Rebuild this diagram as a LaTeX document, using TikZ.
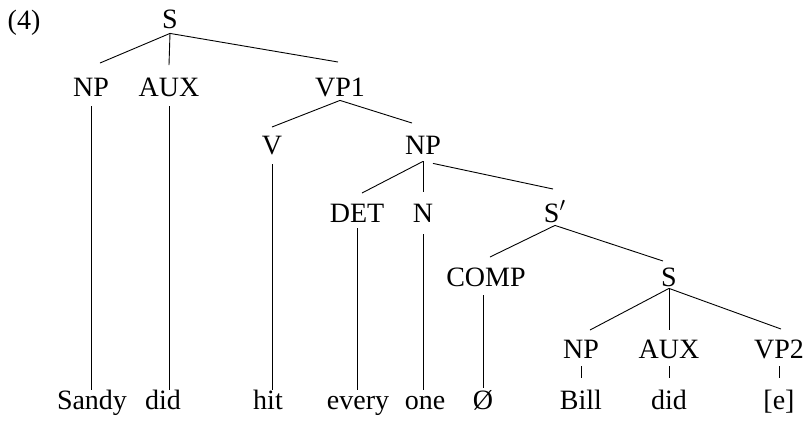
\documentclass[tikz,border=0pt]{standalone}
\usepackage{fontspec}
\setmainfont{Liberation Serif}
\tikzset{
  lab/.style={anchor=base, inner sep=0pt, text height=9.3pt, text depth=0pt,
    font=\fontsize{14pt}{16pt}\selectfont},
  br/.style={line width=0.45pt, draw=black}
}
\begin{document}
\begin{tikzpicture}[x=0.5pt,y=-0.5pt]
\path[use as bounding box] (0,0) rectangle (811,420);
% labels
\node[lab] (ex) at (24,29) {(4)};
\node[lab] (S0) at (170,28) {S};
\node[lab] (NP1) at (91,96) {NP};
\node[lab] (AUX1) at (169,96) {AUX};
\node[lab] (VP1) at (340,96) {VP1};
\node[lab] (V) at (272,154) {V};
\node[lab] (NP2) at (423,154) {NP};
\node[lab] (DET) at (357,222) {DET};
\node[lab] (N) at (423,222) {N};
\node[lab] (Sp) at (555,222) {S$'$};
\node[lab] (COMP) at (486,286) {COMP};
\node[lab] (S2) at (669,286) {S};
\node[lab] (NP3) at (581,358) {NP};
\node[lab] (AUX3) at (669,358) {AUX};
\node[lab] (VP2) at (779,358) {VP2};
% leaves
\node[lab] (sandy) at (92,409) {Sandy};
\node[lab] (did1) at (163,409) {did};
\node[lab] (hit) at (268,409) {hit};
\node[lab] (every) at (358,409) {every};
\node[lab] (one) at (425,409) {one};
\node[lab] (zero) at (483,409) {Ø};
\node[lab] (bill) at (581,409) {Bill};
\node[lab] (did2) at (669,409) {did};
\node[lab] (e) at (779,409) {[e]};
% S
\draw[br] ([yshift=-2.5pt]S0.south) -- ([xshift=4.5pt,yshift=7pt]NP1.north);
\draw[br] ([yshift=-2.5pt]S0.south) -- ([yshift=6pt]AUX1.north);
\draw[br] ([yshift=-2.5pt]S0.south) -- ([xshift=-1pt,yshift=7.5pt]VP1.north);
\draw[br] (NP1.south) ++(0,10) -- (NP1.south |- sandy.north);
\draw[br] (AUX1.south) ++(0,10) -- (AUX1.south |- did1.north);
% VP1
\draw[br] ([yshift=-2pt]VP1.south) -- ([yshift=4pt]V.north);
\draw[br] ([yshift=-2pt]VP1.south) -- ([xshift=-5.5pt,yshift=6pt]NP2.north);
\draw[br] (V.south) ++(0,10) -- (V.south |- hit.north);
% NP2
\draw[br] ([yshift=-3.5pt]NP2.south) -- ([xshift=2.5pt,yshift=5pt]DET.north);
\draw[br] ([yshift=-3.5pt]NP2.south) -- ([yshift=5.5pt]N.north);
\draw[br] ([xshift=5pt,yshift=-4.5pt]NP2.south) -- ([xshift=-1pt,yshift=7pt]Sp.north);
\draw[br] (DET.south) ++(0,6) -- (DET.south |- every.north);
\draw[br] (N.south) ++(0,12) -- (N.south |- one.north);
% S'
\draw[br] ([yshift=-1.5pt]Sp.south) -- ([xshift=2pt,yshift=5pt]COMP.north);
\draw[br] ([yshift=-1.5pt]Sp.south) -- ([xshift=-3pt,yshift=3pt]S2.north);
\draw[br] ([xshift=-1.5pt]COMP.south) ++(0,9) -- ([xshift=-1.5pt,yshift=1pt]COMP.south |- zero.north);
% S lower
\draw[br] ([yshift=-1pt]S2.south) -- ([xshift=4.5pt,yshift=4.5pt]NP3.north);
\draw[br] ([yshift=-1pt]S2.south) -- ([yshift=4.5pt]AUX3.north);
\draw[br] ([yshift=-1pt]S2.south) -- ([xshift=1pt,yshift=5pt]VP2.north);
\draw[br] (NP3.south) ++(0,8) -- ([yshift=6pt]bill.north);
\draw[br] (AUX3.south) ++(0,8) -- ([yshift=6pt]did2.north);
\draw[br] (VP2.south) ++(0,8) -- ([yshift=6pt]e.north);
\end{tikzpicture}
\end{document}
